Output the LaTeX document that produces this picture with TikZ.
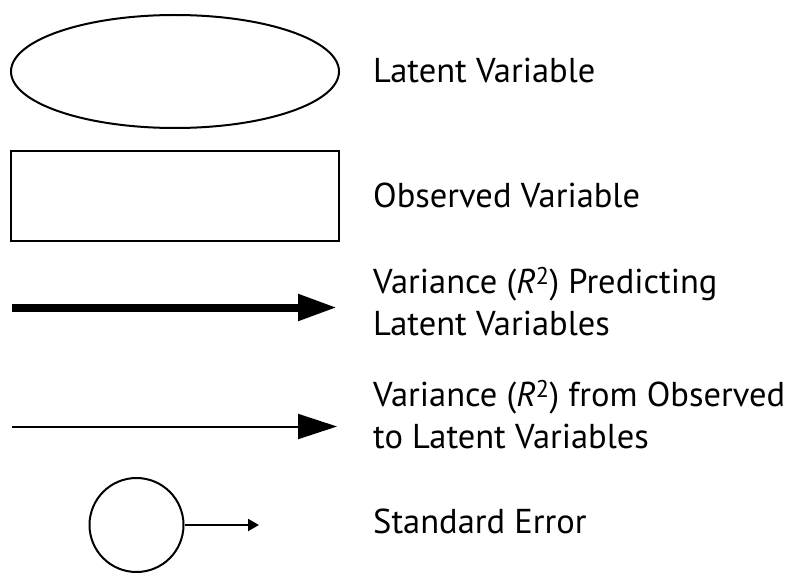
\documentclass[tikz,border=0pt]{standalone}
\usepackage{fontspec}
\setmainfont{PT Sans}
\usetikzlibrary{arrows.meta,shapes.geometric}

\tikzset{
  legendtext/.style={anchor=base west,inner sep=0pt,align=left,font=\fontsize{34.5}{41.5}\selectfont},
  bigtip/.style={-{Triangle[length=39pt,width=25pt]}},
}

\begin{document}
\begin{tikzpicture}[x=1pt,y=-1pt]
    \useasboundingbox (0,0) rectangle (800,583);

    % shapes
    \node [draw,line width=2pt,ellipse,minimum width=328pt,minimum height=113pt,inner sep=0pt] (latent) at (175,71.5) {};
    \node [draw,line width=2pt,rectangle,minimum width=328pt,minimum height=90pt,inner sep=0pt] (observed) at (175,196) {};

    \coordinate (thickstart) at (12,307.5);
    \coordinate (thickend) at (337,307.5);
    \draw [bigtip,line width=8pt] (thickstart)--(thickend);

    \coordinate (thinstart) at (12,426.5);
    \coordinate (thinend) at (337,426.5);
    \draw [bigtip,line width=2pt] (thinstart)--(thinend);

    \node [draw,line width=2pt,circle,minimum size=94pt,inner sep=0pt] (error) at (136.5,525) {};
    \coordinate (errorend) at (259,525);
    \draw [-{Triangle[length=11pt,width=12pt]},line width=2pt] (error.east)--(errorend);

    % labels (base = last line)
    \node [legendtext] (latentlabel) at (373,83) {Latent Variable};
    \node [legendtext] (observedlabel) at (373,207) {Observed Variable};
    \node [legendtext] (predictlabel) at (373,335) {Variance (\textit{R}\textsuperscript{2}) Predicting\\Latent Variables};
    \node [legendtext] (fromlabel) at (373,448) {Variance (\textit{R}\textsuperscript{2}) from Observed\\to Latent Variables};
    \node [legendtext] (errorlabel) at (373,533) {Standard Error};
\end{tikzpicture}
\end{document}
